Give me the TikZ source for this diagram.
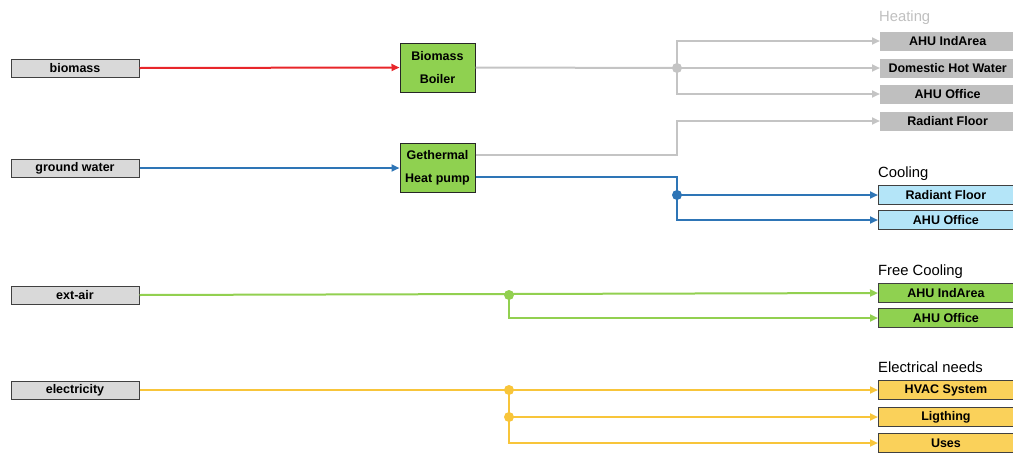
\documentclass[tikz,border=0pt]{standalone}
\usepackage{fontspec}
\setmainfont{Liberation Sans}
\usetikzlibrary{arrows.meta}
\definecolor{cred}{HTML}{E8262A}
\definecolor{cblue}{HTML}{2E75B6}
\definecolor{cgray}{HTML}{C4C4C4}
\definecolor{cgreen}{HTML}{92D050}
\definecolor{cyellow}{HTML}{F8C53A}
\definecolor{fgray}{HTML}{D9D9D9}
\definecolor{fgbox}{HTML}{BFBFBF}
\definecolor{fblue}{HTML}{B4E5F8}
\definecolor{fyellow}{HTML}{FAD15A}
\definecolor{fgreen}{HTML}{8FD150}
\begin{document}
\begin{tikzpicture}[x=1pt,y=-1pt,
  src/.style={draw=black!75,fill=fgray,line width=1pt,minimum width=128pt,minimum height=18pt,inner sep=0pt,font=\bfseries\fontsize{12.5}{14}\selectfont},
  conv/.style={draw=black!85,fill=fgreen,line width=1pt,minimum width=75pt,minimum height=49pt,inner sep=0pt,align=center,font=\bfseries\fontsize{12.5}{23}\selectfont},
  tgt/.style={anchor=west,minimum width=135pt,minimum height=19pt,inner sep=0pt,font=\bfseries\fontsize{12.5}{14}\selectfont},
  tgray/.style={tgt,fill=fgbox},
  tblue/.style={tgt,fill=fblue,draw=black!75,line width=0.9pt},
  tgreen/.style={tgt,fill=fgreen,draw=black!75,line width=0.9pt},
  tyellow/.style={tgt,fill=fyellow,draw=black!75,line width=0.9pt},
  grp/.style={anchor=base west,inner sep=0pt,font=\fontsize{14.8}{16}\selectfont},
  flow/.style={line width=2pt},
  arr/.style={flow,-{Triangle[length=8pt,width=7pt]}},
  dot/.style={circle,inner sep=0pt,minimum size=10pt}
]
\useasboundingbox (0,0) rectangle (1013,453);

% sources
\node[src] (bio) at (75,68) {biomass};
\node[src] (gw) at (75,168) {ground water};
\node[src] (air) at (75,295) {ext-air};
\node[src] (el) at (75,390) {electricity};

% converters
\node[conv] (boiler) at (437.5,67.5) {Biomass\\Boiler};
\node[conv] (hp) at (437.5,168) {Gethermal\\Heat pump};

% heating targets
\node[grp,text=fgbox] (hlab) at (879,21) {Heating};
\node[tgray] (h1) at (880,41) {AHU IndArea};
\node[tgray] (h2) at (880,68) {Domestic Hot Water};
\node[tgray] (h3) at (880,94) {AHU Office};
\node[tgray] (h4) at (880,121) {Radiant Floor};

% cooling targets
\node[grp] (clab) at (878,177) {Cooling};
\node[tblue] (c1) at (878,195) {Radiant Floor};
\node[tblue] (c2) at (878,220) {AHU Office};

% free cooling
\node[grp] (flab) at (878,275) {Free Cooling};
\node[tgreen] (f1) at (878,293) {AHU IndArea};
\node[tgreen] (f2) at (878,318) {AHU Office};

% electrical
\node[grp] (elab) at (878,372) {Electrical needs};
\node[tyellow] (e1) at (878,390) {HVAC System};
\node[tyellow] (e2) at (878,417) {Ligthing};
\node[tyellow] (e3) at (878,443) {Uses};

% junctions
\coordinate (jh) at (677,68);
\coordinate (jc) at (677,195);
\coordinate (jf) at (509,295);
\coordinate (je1) at (509,390);
\coordinate (je2) at (509,417);
\coordinate (jr) at (677,155);

% inputs
\draw[arr,cred] (bio.east) -- (boiler.west);
\draw[arr,cblue] (gw.east) -- (hp.west);

% heating from boiler
\draw[flow,cgray] (boiler.east) -- (jh);
\draw[arr,cgray] (jh) |- (h1.west);
\draw[arr,cgray] (jh) -- (h2.west);
\draw[arr,cgray] (jh) |- (h3.west);
\node[dot,fill=cgray] at (jh) {};

% heating from heat pump
\draw[arr,cgray] (hp.east |- jr) -- (jr) |- (h4.west);

% cooling
\draw[flow,cblue] (hp.east |- 0,177) -| (jc);
\draw[arr,cblue] (jc) -- (c1.west);
\draw[arr,cblue] (jc) |- (c2.west);
\node[dot,fill=cblue] at (jc) {};

% free cooling
\draw[arr,cgreen] (air.east) -- (f1.west);
\draw[arr,cgreen] (jf) |- (f2.west);
\node[dot,fill=cgreen] at (jf) {};

% electrical
\draw[arr,cyellow] (el.east) -- (e1.west);
\draw[arr,cyellow] (je1) -- (je2) -- (e2.west);
\draw[arr,cyellow] (je2) |- (e3.west);
\node[dot,fill=cyellow] at (je1) {};
\node[dot,fill=cyellow] at (je2) {};
\end{tikzpicture}
\end{document}
